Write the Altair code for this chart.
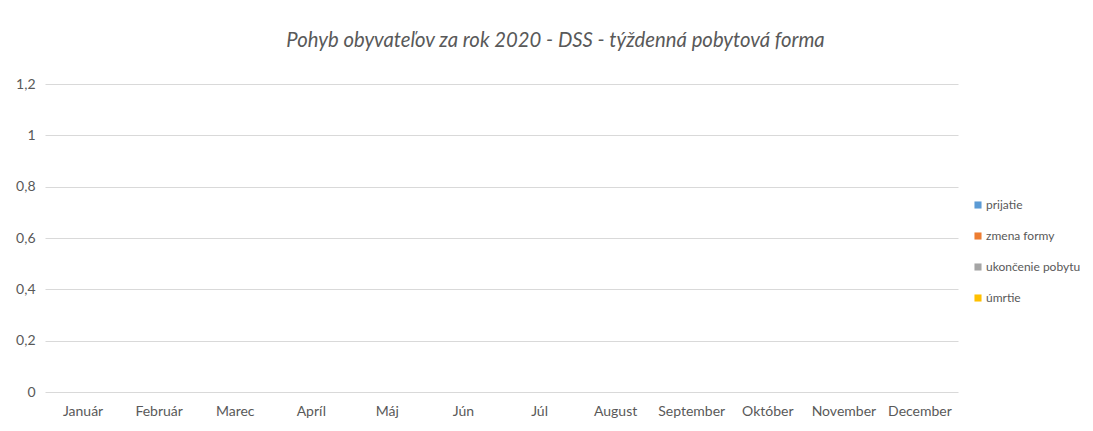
import altair as alt
import pandas as pd

months = ["Január", "Február", "Marec", "Apríl", "Máj", "Jún", "Júl",
          "August", "September", "Október", "November", "December"]
series = ["prijatie", "zmena formy", "ukončenie pobytu", "úmrtie"]
colors = ["#5B9BD5", "#ED7D31", "#A5A5A5", "#FFC000"]
prijatie = [0] * 12
zmena_formy = [0] * 12
ukoncenie_pobytu = [0] * 12
umrtie = [0] * 12

vals = [prijatie, zmena_formy, ukoncenie_pobytu, umrtie]
rows = []
for s, v in zip(series, vals):
    for m, x in zip(months, v):
        rows.append({"mesiac": m, "séria": s, "hodnota": x})
df = pd.DataFrame(rows)

FONT = "Lato"

chart = alt.Chart(df).mark_bar().encode(
    x=alt.X("mesiac:N", sort=months, title=None,
            scale=alt.Scale(paddingInner=0.3, paddingOuter=0.15),
            axis=alt.Axis(labelAngle=0, ticks=False, domain=False, labelPadding=12,
                          labelFont=FONT, labelFontSize=14, labelColor="#595959")),
    xOffset=alt.XOffset("séria:N", sort=series),
    y=alt.Y("hodnota:Q", title=None,
            scale=alt.Scale(domain=[0, 1.2], nice=False),
            axis=alt.Axis(values=[0, 0.2, 0.4, 0.6, 0.8, 1.0, 1.2], ticks=False, domain=False,
                          labelPadding=10, labelFont=FONT, labelFontSize=14, labelColor="#595959",
                          gridColor="#D9D9D9", gridWidth=1,
                          labelExpr="replace(toString(datum.value), '.', ',')")),
    color=alt.Color("séria:N", sort=series,
                    scale=alt.Scale(domain=series, range=colors),
                    legend=alt.Legend(title=None, orient="none", legendX=927, legendY=115,
                                      symbolType="square", symbolSize=50, symbolStrokeWidth=0,
                                      rowPadding=19, labelFont=FONT, labelFontSize=12,
                                      labelColor="#595959", labelOffset=2, labelLimit=200)),
).properties(
    width=913,
    height=308,
    padding={"left": 37, "top": 76, "right": 127, "bottom": 31},
    autosize=alt.AutoSizeParams(type="none"),
    background="white",
    title=alt.TitleParams("Pohyb obyvateľov za rok 2020 - DSS - týždenná pobytová forma",
                          font=FONT, fontSize=20.3, fontStyle="italic", fontWeight="normal",
                          color="#595959", anchor="middle", offset=26, dx=54),
).configure_view(strokeWidth=0, stroke="transparent")

chart.save("out.html", embed_options={"renderer": "svg", "actions": False})
